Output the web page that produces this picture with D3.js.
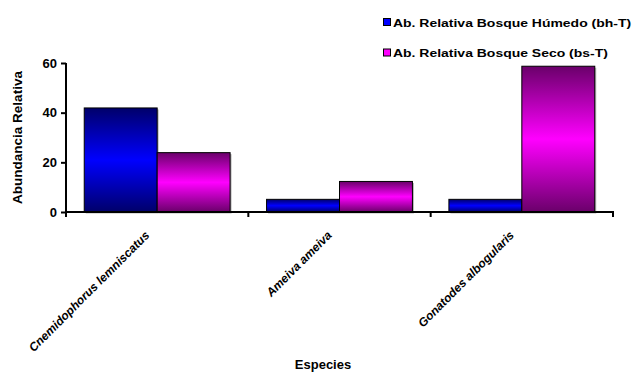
<!DOCTYPE html>
<html><head><meta charset="utf-8">
<script src="https://cdn.jsdelivr.net/npm/d3@7"></script>
<style>body{margin:0;background:#fff}svg{display:block;font-family:Arial,"Liberation Sans",sans-serif}</style>
</head><body>
<svg id="c" width="635" height="374"></svg>
<script>
const categories = ["Cnemidophorus lemniscatus", "Ameiva ameiva", "Gonatodes albogularis"];
const seriesNames = ["Ab. Relativa Bosque Húmedo (bh-T)", "Ab. Relativa Bosque Seco (bs-T)"];
const humedo = [41.9, 5.1, 5.1];
const seco = [23.9, 12.3, 58.7];
const yTicks = [0, 20, 40, 60];

(function () {
const svg = d3.select("#c");
const mL = 66, mR = 613, mT = 63, mB = 212;
const x = d3.scaleBand().domain(categories).range([mL, mR]).paddingInner(0).paddingOuter(0);
const x1 = d3.scaleBand().domain([0, 1]).range([0, x.bandwidth()]).paddingInner(0).paddingOuter(0.25);
const y = d3.scaleLinear().domain([0, 60]).range([mB, mT]);

const defs = svg.append("defs");
const cols = [["#00006a", "#0000ff"], ["#6a006a", "#ff00ff"]];
cols.forEach((c, i) => {
  const g = defs.append("linearGradient").attr("id", "g" + i).attr("x1", 0).attr("x2", 0).attr("y1", 0).attr("y2", 1);
  g.append("stop").attr("offset", "0%").attr("stop-color", c[0]);
  g.append("stop").attr("offset", "50%").attr("stop-color", c[1]);
  g.append("stop").attr("offset", "100%").attr("stop-color", c[0]);
});

const data = [];
categories.forEach((cat, ci) => {
  [humedo, seco].forEach((arr, si) => data.push({cat, si, v: arr[ci]}));
});

// shadows
svg.append("g").selectAll("rect").data(data).join("rect")
  .attr("x", d => x(d.cat) + x1(d.si) + 1.5)
  .attr("y", d => y(d.v) + 1.5)
  .attr("width", x1.bandwidth())
  .attr("height", d => mB - y(d.v))
  .attr("fill", "#b8b8b8");
// bars
svg.append("g").selectAll("rect").data(data).join("rect")
  .attr("x", d => x(d.cat) + x1(d.si))
  .attr("y", d => y(d.v))
  .attr("width", x1.bandwidth())
  .attr("height", d => mB - y(d.v))
  .attr("fill", d => `url(#g${d.si})`)
  .attr("stroke", "#000").attr("stroke-width", 1);

// y axis
const ya = svg.append("g").attr("transform", `translate(${mL},0)`)
  .call(d3.axisLeft(y).tickValues(yTicks).tickSize(5).tickPadding(4).tickFormat(d3.format("d")));
ya.select(".domain").attr("stroke", "#000").attr("stroke-width", 2).attr("d", `M0,${mT}V${mB}`);
ya.selectAll(".tick line").attr("stroke", "#000").attr("stroke-width", 2);
ya.selectAll(".tick text").attr("font-size", 13).attr("font-weight", "bold").attr("font-family", "Arial, 'Liberation Sans', sans-serif").attr("fill", "#000");

// x axis
const xa = svg.append("g");
xa.append("line").attr("x1", mL - 1).attr("x2", mR + 1).attr("y1", mB).attr("y2", mB).attr("stroke", "#000").attr("stroke-width", 2);
const bounds = categories.map(c => x(c)).concat([x(categories[categories.length - 1]) + x.bandwidth()]);
xa.selectAll("line.t").data(bounds).join("line").attr("class", "t")
  .attr("x1", d => d).attr("x2", d => d).attr("y1", mB).attr("y2", mB + 5)
  .attr("stroke", "#000").attr("stroke-width", 2);
xa.selectAll("text").data(categories).join("text")
  .attr("transform", d => `translate(${x(d) + x.bandwidth() / 2 - 7},${mB + 24}) rotate(-45)`)
  .attr("text-anchor", "end")
  .attr("font-size", 12).attr("font-style", "italic").attr("font-weight", "bold").attr("fill", "#000")
  .text(d => d);

// axis titles
svg.append("text").attr("transform", `translate(22,${(mT + mB) / 2}) rotate(-90)`)
  .attr("text-anchor", "middle").attr("font-size", 13.5).attr("font-weight", "bold").text("Abundancia Relativa");
svg.append("text").attr("x", 323).attr("y", 369).attr("text-anchor", "middle")
  .attr("font-size", 13).attr("font-weight", "bold").text("Especies");

// legend
const legY = [26.5, 57];
const leg = svg.append("g");
seriesNames.forEach((s, i) => {
  leg.append("rect").attr("x", 383.5).attr("y", legY[i] - 8).attr("width", 7).attr("height", 7)
    .attr("fill", cols[i][1]).attr("stroke", "#000").attr("stroke-width", 1);
  leg.append("text").attr("transform", `translate(393,${legY[i]}) scale(1.27,1)`)
    .attr("font-size", 11).attr("font-weight", "bold").text(s);
});
})();
</script>
</body></html>
